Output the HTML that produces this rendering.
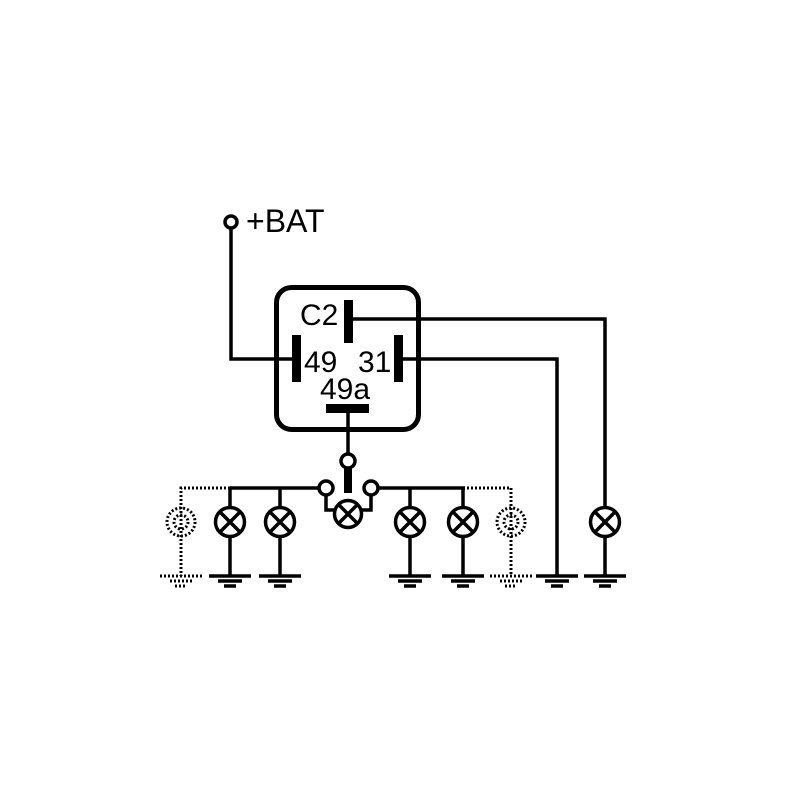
<!DOCTYPE html>
<html><head><style>body{margin:0;background:#fff}</style></head><body>
<svg width="800" height="800" viewBox="0 0 800 800" xmlns="http://www.w3.org/2000/svg" xmlns:xlink="http://www.w3.org/1999/xlink" font-family="Liberation Sans, sans-serif">
<defs>
<g id="l" stroke="#000" fill="none" stroke-width="3.5">
<circle cx="0" cy="522" r="14.5"/>
<path d="M-10,512 L10,532 M10,512 L-10,532"/>
</g>
<g id="g" stroke="#000" fill="none" stroke-width="3.5"><path d="M-21,576 H21 M-12,581 H12 M-6,586 H6"/></g>
</defs>
<rect width="800" height="800" fill="#fff"/>
<g stroke="#000" fill="none" stroke-width="3.5">
<circle cx="231" cy="222" r="6"/>
<polyline points="231,228 231,359 293,359"/>
<rect x="276.5" y="287.5" width="142" height="142" rx="15" stroke-width="5"/>
<polyline points="352,319 605,319 605,508"/>
<polyline points="402,359 557,359 557,576"/>
<line x1="348" y1="413" x2="348" y2="454"/>
<circle cx="348" cy="461" r="7"/>
<circle cx="326" cy="488" r="7"/>
<circle cx="371" cy="488" r="7"/>
<polyline points="319,488 230,488"/>
<polyline points="378,488 465,488"/>
<polyline points="326,495 326,510 334,510"/>
<polyline points="371,495 371,510 362,510"/>
<circle cx="348" cy="514" r="13.5"/>
<path d="M339,505 L357,523 M357,505 L339,523"/>
<line x1="230" y1="488" x2="230" y2="508"/><line x1="280" y1="488" x2="280" y2="508"/>
<line x1="410" y1="488" x2="410" y2="508"/><line x1="463" y1="488" x2="463" y2="508"/>
<line x1="230" y1="536" x2="230" y2="576"/><line x1="280" y1="536" x2="280" y2="576"/>
<line x1="410" y1="536" x2="410" y2="576"/><line x1="463" y1="536" x2="463" y2="576"/>
<line x1="605" y1="536" x2="605" y2="576"/>
<g stroke-dasharray="2,2" stroke-width="3">
<polyline points="230,488 181,488 181,576"/>
<polyline points="463,488 511,488 511,576"/>
<circle cx="181" cy="522" r="14"/>
<circle cx="511" cy="522" r="14"/>
<circle cx="181" cy="522" r="7"/>
<circle cx="511" cy="522" r="7"/>
<path d="M160,576 H202 M170,581 H193 M175,586 H187"/>
<path d="M490,576 H532 M500,581 H522 M505,586 H517"/>
</g>
</g>
<use xlink:href="#l" x="230"/><use xlink:href="#l" x="280"/><use xlink:href="#l" x="410"/><use xlink:href="#l" x="463"/><use xlink:href="#l" x="605"/>
<use xlink:href="#g" x="230"/><use xlink:href="#g" x="280"/><use xlink:href="#g" x="410"/><use xlink:href="#g" x="463"/><use xlink:href="#g" x="557"/><use xlink:href="#g" x="605"/>
<g fill="#000">
<rect x="292" y="335" width="9" height="47"/>
<rect x="394" y="335" width="9" height="47"/>
<rect x="344" y="300" width="9" height="43"/>
<rect x="326" y="404" width="43" height="9"/>
<rect x="344" y="468" width="8" height="25"/>
<text x="246" y="232" font-size="32">+BAT</text>
<text x="300" y="325" font-size="30">C2</text>
<text x="304" y="372" font-size="30">49</text>
<text x="358" y="372" font-size="30">31</text>
<text x="320" y="399" font-size="30">49a</text>
</g>
</svg>
</body></html>
